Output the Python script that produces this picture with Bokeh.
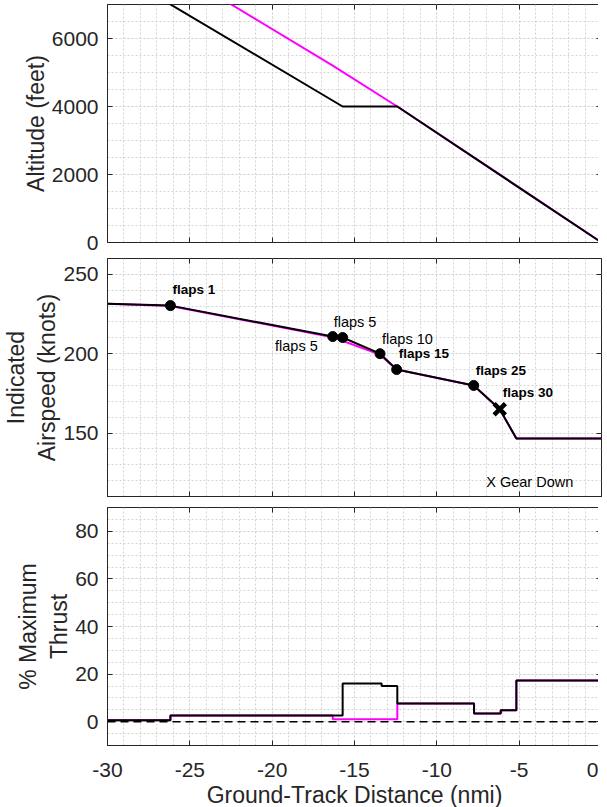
from bokeh.plotting import figure
from bokeh.layouts import column
from bokeh.models import FixedTicker, LinearAxis, Range1d, Span, Label
from bokeh.embed import file_html
from bokeh.resources import INLINE

# ---------------- data ----------------
x_ticks = [-30, -25, -20, -15, -10, -5, 0]
x_minor = list(range(-30, 1))

alt_ticks = [0, 2000, 4000, 6000]
alt_minor = list(range(0, 7001, 500))
spd_ticks = [150, 200, 250]
spd_minor = list(range(110, 261, 10))
thr_ticks = [0, 20, 40, 60, 80]
thr_minor = list(range(-10, 91, 5))

# altitude profiles (ft) vs ground-track distance (nmi)
alt_dist_black = [-30, -15.72, -12.4, 0]
alt_black = [8100, 4000, 4000, 0]
alt_dist_mag = [-30, -16.32, -12.4, 0]
alt_mag = [9200, 5200, 4000, 0]

# indicated airspeed (knots)
spd_dist_black = [-30, -26.18, -16.32, -15.72, -13.45, -12.44, -7.76, -6.18, -5.17, 0]
spd_black = [231.5, 230.3, 210.8, 210.2, 200.0, 190.0, 180.0, 165.0, 146.6, 146.6]
spd_dist_mag = [-30, -26.18, -16.32, -13.45, -12.44, -7.76, -6.18, -5.17, 0]
spd_mag = [231.5, 230.1, 210.4, 199.4, 190.0, 180.0, 165.0, 146.6, 146.6]

# flap events
flap_x = [-26.18, -16.32, -15.72, -13.45, -12.44, -7.76]
flap_y = [230.3, 210.8, 210.2, 200.0, 190.0, 180.0]
gear_x = [-6.18]
gear_y = [165.0]
flap_labels = ["flaps  1", "flaps  5", "flaps  5", "flaps 10", "flaps 15", "flaps 25", "flaps 30"]
label_x = flap_x + gear_x
label_y = flap_y + gear_y
gear_note = "X Gear Down"
gear_note_x = [-7.0]
gear_note_y = [119.0]

# thrust (% max), step after each distance
thr_dist_black = [-30, -26.18, -15.72, -13.35, -12.4, -7.74, -6.12, -5.17, 0]
thr_black = [0.6, 2.6, 16.0, 15.0, 7.6, 3.4, 4.8, 17.3, 17.3]
thr_dist_mag = [-30, -26.18, -16.32, -12.4, -7.74, -6.12, -5.17, 0]
thr_mag = [0.6, 2.6, 1.0, 7.6, 3.4, 4.8, 17.3, 17.3]

# ---------------- styles ----------------
FONT = "Liberation Sans"
TXT = "#262626"
GRID = "#d4d4d4"
MAG = "#FF00FF"
# label offsets (px) / alignment / weight / size, one per flap label
lab_dx = [2, -11, -9, 2, 2, 2, 3]
lab_dy = [-16, 9, -16, -15, -16, -15, -17]
lab_align = ["left", "right", "left", "left", "left", "left", "left"]
lab_weight = ["bold", "normal", "normal", "normal", "bold", "bold", "bold"]
lab_size = ["13.5px", "14.5px", "14.5px", "14.5px", "13.5px", "13.5px", "13.5px"]


def style_axis(ax, ticks, minor, show_labels):
    ax.ticker = FixedTicker(ticks=ticks, minor_ticks=minor)
    ax.major_tick_in = 5
    ax.major_tick_out = 0
    ax.minor_tick_line_color = None
    ax.axis_line_color = TXT
    ax.major_tick_line_color = TXT
    ax.major_label_text_font = FONT
    if show_labels:
        ax.major_label_text_color = TXT
        ax.major_label_text_font_size = "21px"
        ax.major_label_overrides = {t: str(t) for t in ticks}
    else:
        ax.major_label_text_color = None
        ax.major_label_text_font_size = "1px"
        ax.major_label_standoff = 0


def make_fig(yr, yticks, yminor, ylabel, btop, bbot, xlabels):
    p = figure(frame_width=494, frame_height=238,
               x_range=Range1d(-30, 0), y_range=Range1d(*yr),
               output_backend="svg", toolbar_location=None,
               min_border_left=99, min_border_right=5,
               min_border_top=btop, min_border_bottom=bbot,
               background_fill_color="white", border_fill_color="white",
               outline_line_color=TXT, outline_line_width=1)
    bottom = p.below[0]
    left = p.left[0]
    style_axis(bottom, x_ticks, x_minor, xlabels)
    style_axis(left, yticks, yminor, True)
    left.major_label_standoff = 5
    left.axis_label = ylabel
    left.axis_label_standoff = 0
    left.axis_label_text_font = FONT
    left.axis_label_text_font_size = "23px"
    left.axis_label_text_font_style = "normal"
    left.axis_label_text_color = TXT
    left.axis_label_text_line_height = 1.2
    for g in (p.xgrid[0], p.ygrid[0]):
        g.grid_line_color = GRID
        g.grid_line_dash = "2 2"
        g.minor_grid_line_color = GRID
        g.minor_grid_line_dash = "2 2"
    # inward ticks on the top and right edges (box style)
    top = LinearAxis()
    style_axis(top, x_ticks, x_minor, False)
    top.axis_line_color = None
    p.add_layout(top, "above")
    right = LinearAxis()
    style_axis(right, yticks, yminor, False)
    right.axis_line_color = None
    p.add_layout(right, "right")
    return p, bottom


# ---------------- altitude ----------------
p1, _ = make_fig((0, 7000), alt_ticks, alt_minor, "Altitude (feet)", 0, 12, False)
p1.line(alt_dist_mag, alt_mag, color=MAG, line_width=2)
p1.line(alt_dist_black, alt_black, color="black", line_width=2)

# ---------------- airspeed ----------------
p2, _ = make_fig((110, 260), spd_ticks, spd_minor, "Indicated\nAirspeed (knots)", 0, 5, False)
p2.line(spd_dist_mag, spd_mag, color=MAG, line_width=2)
p2.line(spd_dist_black, spd_black, color="black", line_width=2)
p2.scatter(flap_x, flap_y, size=10, color="black")
p2.scatter(gear_x, gear_y, marker="x", size=16, line_width=4.5, color="black")
for i, txt in enumerate(flap_labels):
    p2.add_layout(Label(x=label_x[i], y=label_y[i], text=txt,
                        x_offset=lab_dx[i], y_offset=-lab_dy[i],
                        text_align=lab_align[i], text_baseline="middle",
                        text_font=FONT, text_font_size=lab_size[i],
                        text_font_style=lab_weight[i], text_color="black"))
p2.add_layout(Label(x=gear_note_x[0], y=gear_note_y[0], text=gear_note,
                    text_align="left", text_baseline="middle",
                    text_font=FONT, text_font_size="14.5px", text_color="black"))

# ---------------- thrust ----------------
p3, xb = make_fig((-10, 90), thr_ticks, thr_minor, "% Maximum\nThrust", 6, 62, True)
xb.major_label_standoff = 13
xb.axis_label = "Ground-Track Distance (nmi)"
xb.axis_label_standoff = 2
xb.axis_label_text_font = FONT
xb.axis_label_text_font_size = "23px"
xb.axis_label_text_font_style = "normal"
xb.axis_label_text_color = TXT
p3.step(thr_dist_mag, thr_mag, mode="after", color=MAG, line_width=2)
p3.step(thr_dist_black, thr_black, mode="after", color="black", line_width=2)
p3.add_layout(Span(location=0, dimension="width", line_color="black",
                   line_width=1.5, line_dash="8 5"))

layout = column(p1, p2, p3)
open("out.html", "w").write(file_html(layout, INLINE))
